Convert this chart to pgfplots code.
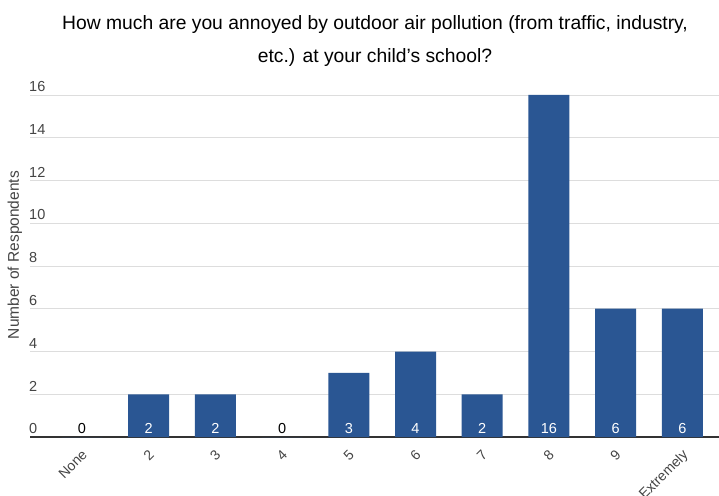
\documentclass[border=0pt]{standalone}
\usepackage{pgfplots}
\pgfplotsset{compat=1.18}
\usepackage{fontspec}
\setmainfont{Liberation Sans}
\definecolor{barblue}{HTML}{2A5693}
\definecolor{gridgray}{HTML}{DDDDDD}
\definecolor{txtgray}{HTML}{444444}
\begin{document}
\begin{tikzpicture}
\useasboundingbox (0,0) rectangle (719pt,495pt);
\begin{axis}[
  at={(30pt,58pt)}, anchor=south west,
  scale only axis, width=689pt, height=342pt,
  xmin=-0.78, xmax=9.55, ymin=0, ymax=16,
  axis lines*=left,
  x axis line style={draw=black!80, line width=1.3pt},
  y axis line style={draw=none},
  ytick={0,2,...,16},
  ymajorgrids, grid style={gridgray, line width=0.8pt},
  major tick length=0pt,
  xtick={0,...,9},
  xticklabels={None,2,3,4,5,6,7,8,9,Extremely},
  xticklabel style={rotate=45, anchor=north east, font=\fontsize{14}{16}\selectfont, text=txtgray, inner sep=2pt, yshift=-5.5pt, xshift=-6.7pt},
  yticklabel style={anchor=south west, font=\fontsize{14.5}{16}\selectfont, text=txtgray, xshift=-3pt, yshift=1pt, inner sep=2pt},
  /pgf/number format/assume math mode=true,
  ylabel={Number of Respondents},
  ylabel style={font=\fontsize{15.5}{17}\selectfont, text=txtgray, at={(axis description cs:-0.0218,0.532)}, anchor=center},
  title={How much are you annoyed by outdoor air pollution (from traffic, industry,\\etc.) at your child’s school?},
  title style={font=\fontsize{19.3}{33}\selectfont, align=center, at={(axis description cs:0.5007,1.140)}, anchor=center},
  clip=false,
]
\addplot[ybar, bar width=41pt, fill=barblue, draw=none] coordinates {
  (0,0) (1,2) (2,2) (3,0) (4,3) (5,4) (6,2) (7,16) (8,6) (9,6)
};
\addplot[draw=none, mark=none, nodes near coords, point meta=explicit symbolic,
  every node near coord/.style={anchor=south, text=white, font=\fontsize{14.5}{16}\selectfont, inner sep=0pt, yshift=3pt}]
  coordinates {
  (1,0) [2] (2,0) [2] (4,0) [3] (5,0) [4] (6,0) [2] (7,0) [16] (8,0) [6] (9,0) [6]
};
\addplot[draw=none, mark=none, nodes near coords, point meta=explicit symbolic,
  every node near coord/.style={anchor=south, text=black, font=\fontsize{14.5}{16}\selectfont, inner sep=0pt, yshift=3pt}]
  coordinates {
  (0,0) [0] (3,0) [0]
};
\end{axis}
\end{tikzpicture}
\end{document}
